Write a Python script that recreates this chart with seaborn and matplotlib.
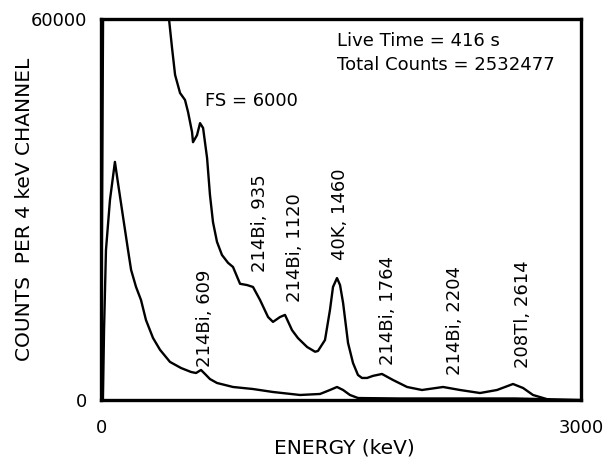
import numpy as np
import pandas as pd
import matplotlib
matplotlib.use("Agg")
import matplotlib.pyplot as plt
import seaborn as sns

# Full-scale (60000) spectrum
energy_full = [0, 12, 19, 31, 56, 87, 106, 138, 169, 188, 219, 250, 281, 325, 369, 431,
               500, 563, 594, 625, 650, 681, 725, 825, 950, 1075, 1244, 1369, 1431, 1475,
               1513, 1556, 1606, 1638, 1869, 2119, 2588, 2869, 3000]
counts_full = [0, 0, 11000, 23600, 31500, 37500, 34200, 28800, 23600, 20500, 17800, 15750,
               12600, 9770, 7900, 6000, 5040, 4410, 4250, 4730, 4100, 3300, 2680, 2050, 1730,
               1260, 790, 950, 1575, 2050, 1575, 790, 315, 300, 240, 240, 240, 80, 0]

# Expanded (FS = 6000) spectrum, displayed on the same 0-60000 scale
energy_fs = [0, 15, 425, 444, 463, 494, 525, 544, 569, 575, 600, 619, 638, 663, 681, 700,
             725, 756, 794, 825, 869, 913, 950, 994, 1044, 1075, 1119, 1150, 1194, 1231,
             1288, 1338, 1356, 1400, 1431, 1450, 1475, 1494, 1513, 1544, 1575, 1606, 1631,
             1663, 1700, 1756, 1825, 1913, 2006, 2138, 2244, 2369, 2475, 2575, 2638, 2700,
             2763, 2806]
counts_fs = [0, 70000, 60000, 55440, 51200, 48350, 47250, 45360, 42200, 40600, 41700, 43600,
             42840, 38100, 32300, 28000, 24900, 22840, 21600, 20950, 18300, 18100, 17800,
             15750, 13070, 12300, 13070, 13400, 11000, 9750, 8350, 7600, 7720, 9450, 14175,
             17800, 19200, 18100, 15300, 8980, 5830, 3940, 3470, 3470, 3800, 4100, 3150, 2050,
             1575, 2050, 1575, 1100, 1575, 2520, 1890, 790, 315, 0]

peak_labels = ["214Bi, 609", "214Bi, 935", "214Bi, 1120", "40K, 1460",
               "214Bi, 1764", "214Bi, 2204", "208Tl, 2614"]
peak_label_x = [650, 994, 1213, 1494, 1794, 2213, 2638]
peak_label_y = [5200, 20160, 15435, 22050, 5510, 3940, 5040]

xticks = [0, 3000]
yticks = [0, 60000]

sns.set_theme(style="white")
plt.rcParams["font.family"] = ["DejaVu Sans"]

fig = plt.figure(figsize=(6.16, 4.68), dpi=100)
ax = fig.add_axes([101/616, 1-400/468, 480/616, 381/468])

df_full = pd.DataFrame({"energy": energy_full, "counts": counts_full})
df_fs = pd.DataFrame({"energy": energy_fs, "counts": counts_fs})
sns.lineplot(data=df_full, x="energy", y="counts", color="black", linewidth=1.7,
             estimator=None, sort=False, ax=ax)
sns.lineplot(data=df_fs, x="energy", y="counts", color="black", linewidth=1.7,
             estimator=None, sort=False, ax=ax)

ax.set_xlim(0, 3000)
ax.set_ylim(0, 60000)
ax.set_xticks(xticks)
ax.set_yticks(yticks)
ax.set_xticklabels([str(v) for v in xticks])
ax.set_yticklabels([str(v) for v in yticks])
ax.tick_params(axis="both", length=0, labelsize=13, colors="black")
ax.tick_params(axis="x", pad=14)
ax.tick_params(axis="y", pad=10)

for s in ax.spines.values():
    s.set_visible(True)
    s.set_color("black")
    s.set_linewidth(2.4)

ax.set_xlabel("ENERGY (keV)", fontsize=14.5, color="black")
ax.set_ylabel("COUNTS  PER 4 keV CHANNEL", fontsize=14.5, color="black")
ax.xaxis.set_label_coords(0.508, -0.10)
ax.yaxis.set_label_coords(-0.14, 0.5)

for lab, x, y in zip(peak_labels, peak_label_x, peak_label_y):
    ax.text(x, y, lab, rotation=90, ha="center", va="bottom", fontsize=13, color="black")

ax.text(1475, 56540, "Live Time = 416 s", ha="left", va="center", fontsize=13, color="black")
ax.text(1475, 52760, "Total Counts = 2532477", ha="left", va="center", fontsize=13, color="black")
ax.text(650, 47090, "FS = 6000", ha="left", va="center", fontsize=13, color="black")

fig.savefig("out.png", dpi=100, facecolor="white")
